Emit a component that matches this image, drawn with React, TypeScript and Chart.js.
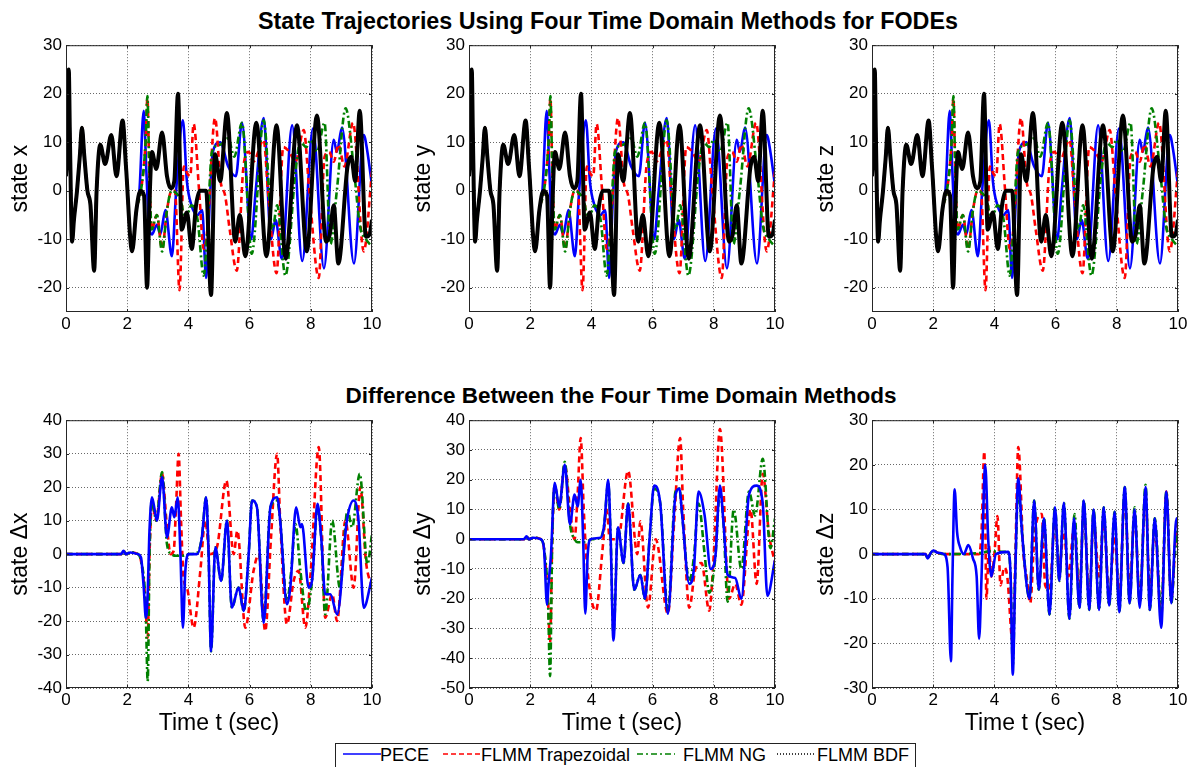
import React, { useEffect, useRef } from "react";
import { Chart, registerables } from "chart.js";
Chart.register(...registerables);

const FONT = "Arial, 'Liberation Sans', Helvetica, sans-serif";

// ---------------- DATA ----------------
const T_TICKS = [0, 2, 4, 6, 8, 10];
const TOP_Y_TICKS = [-20, -10, 0, 10, 20, 30];
const DX_Y_TICKS = [-40, -30, -20, -10, 0, 10, 20, 30, 40];
const DY_Y_TICKS = [-50, -40, -30, -20, -10, 0, 10, 20, 30, 40];
const DZ_Y_TICKS = [-30, -20, -10, 0, 10, 20, 30];

// common start of all four trajectories (identical until ~2.2 s)
const EARLY_T = [0, 0.04, 0.09, 0.13, 0.2, 0.26, 0.36, 0.45, 0.52, 0.6, 0.7, 0.8, 0.92, 1.0, 1.12, 1.28, 1.48, 1.65, 1.85, 1.96, 2.16];
const EARLY_V = [3, 8, 25, 10, -10.5, -6, 0, 7, 13, 7, 0, -3, -16.5, 0, 9.5, 5.5, 11.5, 3, 14.5, 5, -12.5];

const BDF_T = [2.3, 2.43, 2.55, 2.65, 2.73, 2.81, 2.95, 3.14, 3.3, 3.42, 3.54, 3.66, 3.78, 3.95, 4.11, 4.25, 4.38, 4.58, 4.74, 4.87, 5.04, 5.26, 5.53, 5.68, 5.86, 6.22, 6.55, 6.88, 7.18, 7.55, 7.87, 8.2, 8.5, 8.62, 8.75, 8.9, 9.2, 9.32, 9.45, 9.6, 9.8, 9.92, 10];
const BDF_V = [-4, 0, -1, -20, -2, 8, 4.5, 12, 3, 0.5, 2, 20, -8, -4.5, -12, -3, 0, 0, -21.5, 7.5, 2, 16, -10.5, -5, -13.5, 14, -13.5, 13.5, -14, 13.5, -12.5, 15.5, -10.5, -9, -3, -15, 5, 7, 2, 16.5, -9.5, -9, -6];

const PECE_T = [2.3, 2.4, 2.54, 2.62, 2.7, 2.81, 2.97, 3.08, 3.25, 3.46, 3.6, 3.82, 3.95, 4.1, 4.3, 4.45, 4.58, 4.7, 4.8, 5.04, 5.3, 5.55, 5.75, 6.05, 6.2, 6.46, 6.7, 6.85, 7.05, 7.39, 7.72, 8.07, 8.43, 8.75, 8.85, 9.02, 9.41, 9.73, 9.85, 10];
const PECE_V = [-4, 0, 16.5, 5, -6, -9, -7, -9, -4, -13.5, 0, 14.5, 2, -3, -5, -4, -18, -2, 8, 10, 5, 3, 14, -10, 0, 15, -10, -6, -14, 13.5, -14.5, 12.8, -16, 10.5, 8, 13, -15, 11.5, 8, 1];

const TRAP_T = [2.3, 2.45, 2.6, 2.66, 2.72, 2.8, 2.97, 3.14, 3.3, 3.45, 3.56, 3.71, 3.85, 3.97, 4.06, 4.17, 4.35, 4.5, 4.62, 4.87, 5.05, 5.2, 5.35, 5.58, 5.8, 5.97, 6.12, 6.46, 6.6, 6.88, 7.1, 7.3, 7.5, 7.77, 7.95, 8.26, 8.45, 8.6, 8.75, 8.9, 9.1, 9.38, 9.73, 10];
const TRAP_V = [-4, 0, 10, 19, 5, -8, -5, -12, -4, 0, 0, -20.5, 5, 3.5, 3, 13.8, 0, -12, -8, 15, 2, -1, -8, -16.5, 5, 8, 6, 10.5, 0, -17, 9, 8, 6, 12.5, 0, -18, 7, 8, 6, 9.5, 5, 14, -12.5, 4];

const NG_T = [2.3, 2.45, 2.6, 2.66, 2.72, 2.8, 2.97, 3.14, 3.3, 3.45, 3.6, 3.75, 3.9, 4.1, 4.3, 4.5, 4.62, 4.77, 5.04, 5.3, 5.5, 5.75, 6.07, 6.46, 6.75, 6.9, 7.17, 7.5, 7.66, 7.85, 8.0, 8.2, 8.45, 8.64, 8.85, 9.14, 9.4, 9.6, 9.8, 10];
const NG_V = [-4, 0, 10, 19.5, 5, -8, -5, -12.5, -4, 0, -0.5, -2, -6, -3, -6, -17.5, -8, 8, 9.5, 10.8, 7, 14, -13, 14.5, -8, -3, -17.5, 4, 10, 9, 10.5, 8, 14, -11, 0, 17, 5, -7, -10, -11.5];

// differences, state x
const DX_PECE_T = [0, 1.8, 1.88, 1.95, 2.1, 2.35, 2.45, 2.54, 2.61, 2.67, 2.72, 2.81, 2.92, 2.97, 3.14, 3.3, 3.46, 3.54, 3.65, 3.74, 3.82, 3.9, 4.01, 4.28, 4.44, 4.58, 4.66, 4.74, 4.88, 5.07, 5.26, 5.42, 5.64, 5.81, 5.97, 6.08, 6.24, 6.46, 6.68, 6.9, 7.0, 7.22, 7.33, 7.52, 7.66, 7.71, 7.93, 8.04, 8.22, 8.34, 8.47, 8.64, 8.86, 9.18, 9.4, 9.56, 9.73, 10];
const DX_PECE_V = [0, 0, 1, 0, 0.5, 0, -1, -10, -19, -12, 5, 17, 12, 10, 23, 5, 14, 11, 17, 0, -22, -5, 0, 0, 5, 17, 0, -29, 2, -8, 10, -16, -10, -17, 0, 16, 14, -20.5, 14, 17, 10, -15, -10, 14, 8, 9, -10, -8, 15, 5, -12, -12, -18, 10, 16, 10, -16, -7];
const DX_TRAP_T = [0, 1.8, 1.88, 1.95, 2.1, 2.35, 2.45, 2.58, 2.67, 2.73, 2.81, 2.95, 3.14, 3.3, 3.42, 3.52, 3.6, 3.68, 3.76, 3.85, 3.95, 4.17, 4.39, 4.55, 4.7, 4.93, 5.24, 5.48, 5.6, 5.86, 6.13, 6.3, 6.51, 6.7, 6.9, 7.0, 7.22, 7.44, 7.6, 7.82, 8.0, 8.26, 8.47, 8.7, 8.86, 9.13, 9.4, 9.62, 9.8, 10];
const DX_TRAP_V = [0, 0, 1, 0, 0.5, 0, -2, -12, -25, 0, 15, 10, 24, 8, 0, 1, 15, 30, 10, -8, -10, -22, -5, 10, 0, 2, 22, 0, 7, -22, -5, 0, -23, 5, 30, 10, -21, -8, -5, -22, -5, 32, -19, -12, -20, 10, -10, 20, -2, -10];
const DX_NG_T = [0, 1.8, 1.88, 1.95, 2.1, 2.35, 2.45, 2.6, 2.67, 2.73, 2.81, 2.95, 3.14, 3.3, 3.45, 3.6, 3.8, 4.0, 4.3, 4.44, 4.58, 4.66, 4.74, 4.88, 5.07, 5.26, 5.42, 5.64, 5.81, 5.97, 6.08, 6.24, 6.46, 6.68, 6.9, 7.0, 7.22, 7.35, 7.5, 7.66, 7.85, 8.04, 8.22, 8.34, 8.47, 8.7, 8.95, 9.2, 9.35, 9.6, 9.85, 10];
const DX_NG_V = [0, 0, 1, 0, 0.5, 0, -2, -15, -38, 0, 16, 10, 24.5, 3, 0, -0.5, -0.5, 0, 0.5, 5, 17, 0, -29, 2, -8, 10, -16, -10, -17, 0, 16, 14, -20, 14, 16, 10, -14, -6, 9, -5, -17, -8, 14, 5, -18, 10, -10, 13, 8, 24, -3, 6];

// differences, state y
const DY_PECE_T = [0, 1.8, 1.88, 1.95, 2.1, 2.35, 2.45, 2.55, 2.6, 2.68, 2.8, 2.95, 3.13, 3.3, 3.45, 3.55, 3.65, 3.73, 3.8, 3.88, 3.97, 4.3, 4.42, 4.55, 4.63, 4.72, 4.87, 5.05, 5.2, 5.4, 5.6, 5.75, 5.9, 6.05, 6.25, 6.5, 6.75, 6.88, 6.95, 7.2, 7.35, 7.5, 7.7, 7.9, 8.05, 8.2, 8.32, 8.45, 8.7, 8.9, 9.15, 9.4, 9.6, 9.75, 10];
const DY_PECE_V = [0, 0, 1, 0, 0.5, 0, -3, -22, -15, -5, 19, 11, 25, 5, 15, 11, 20, 0, -25, -5, 0, 0.5, 5, 20, 0, -34, 4, -8, 12, -17, -12, -20, 0, 18, 12, -25, 15, 17, 10, -15, -10, 16, 8, -10, -6, 18, 5, -12, -13, -20, 15, 18, 12, -19, -7];
const DY_TRAP_T = [0, 1.8, 1.88, 1.95, 2.1, 2.35, 2.45, 2.58, 2.65, 2.72, 2.8, 2.95, 3.13, 3.3, 3.45, 3.55, 3.65, 3.75, 3.85, 4.15, 4.35, 4.5, 4.6, 4.87, 5.2, 5.5, 5.6, 5.85, 6.1, 6.5, 6.7, 6.9, 7.0, 7.2, 7.4, 7.6, 7.85, 8.0, 8.2, 8.5, 8.7, 8.9, 9.2, 9.4, 9.6, 9.8, 10];
const DY_TRAP_V = [0, 0, 1, 0, 0.5, 0, -3, -20, -35, 0, 18, 10, 25, 10, 0, 15, 34, 10, -8, -24, -5, 10, 0, 0, 23, -5, 6, -23, 0, -25, 5, 34, 10, -23, -10, -8, -24, -5, 37, -20, -15, -22, 10, -15, 22, 2, -8];
const DY_NG_T = [0, 1.8, 1.88, 1.95, 2.1, 2.35, 2.45, 2.58, 2.65, 2.72, 2.8, 2.95, 3.13, 3.3, 3.45, 3.55, 3.8, 4.0, 4.3, 4.42, 4.55, 4.63, 4.72, 4.87, 5.05, 5.2, 5.4, 5.6, 5.75, 5.9, 6.05, 6.25, 6.5, 6.75, 6.88, 6.95, 7.2, 7.35, 7.5, 7.7, 7.85, 8.05, 8.2, 8.32, 8.45, 8.65, 8.9, 9.15, 9.35, 9.6, 9.85, 10];
const DY_NG_V = [0, 0, 1, 0, 0.5, 0, -3, -20, -46, 0, 18, 10, 26, 5, 0, -1, -1, 0, 0.5, 5, 19, 0, -32, 4, -8, 12, -17, -12, -20, 0, 17, 12, -24, 16, 17, 10, -14, -6, 12, -5, -18, -6, 16, 5, -21, 10, -10, 16, 8, 27, -3, 7];

// differences, state z
const DZ_PECE_T = [0, 1.75, 1.82, 1.9, 2.0, 2.15, 2.35, 2.47, 2.58, 2.63, 2.7, 2.78, 2.88, 3.0, 3.15, 3.3, 3.42, 3.5, 3.58, 3.7, 3.8, 3.9, 4.05, 4.45, 4.53, 4.6, 4.68, 4.78, 4.9, 5.15, 5.3, 5.45, 5.62, 5.8, 5.98, 6.12, 6.27, 6.45, 6.6, 6.78, 6.92, 7.1, 7.24, 7.42, 7.57, 7.75, 7.93, 8.08, 8.26, 8.42, 8.58, 8.75, 8.94, 9.08, 9.24, 9.45, 9.62, 9.78, 9.95, 10];
const DZ_PECE_V = [0, 0, -1, 0, 0.8, 0.3, 0, -3, -24, -5, 14.5, 5, 1.5, 0, 2, -1, -5, -19, -5, 20, 3, -5, 0, 0.5, -5, -27, -5, 17, 5, -10, 12, -8, 8, -13.5, 10.5, -6, 11.5, -14.5, 8, -12, 12, -12.5, 10, -12.5, 10.5, -11.5, 9.5, -13, 15, -11, 10, -12, 15, -12.5, 8, -16.5, 14, -11, 8, 7];
const DZ_TRAP_T = [0, 1.75, 1.82, 1.9, 2.0, 2.15, 2.35, 3.5, 3.58, 3.67, 3.74, 3.82, 3.9, 4.0, 4.1, 4.2, 4.32, 4.42, 4.6, 4.68, 4.78, 4.95, 5.05, 5.17, 5.32, 5.55, 5.66, 5.8, 5.98, 6.12, 6.27, 6.42, 6.6, 6.78, 6.92, 7.1, 7.24, 7.42, 7.57, 7.75, 7.93, 8.08, 8.26, 8.42, 8.58, 8.75, 8.94, 9.08, 9.24, 9.45, 9.62, 9.78, 9.95, 10];
const DZ_TRAP_V = [0, 0, -1, 0, 0.8, 0.3, 0, 0, 5, 23, -10, 2, -5, 0, 8.5, -7, -3, -5, -20, -2, 24, 0, -5, -11, 5, 9, -7, -8, 7, -3, 5, -5, 6, -8, 10, -10, 8, -5, 8, -9, 4, -10, 13, -8, 9, -10, 13, -9, 6, -14, 14, -10, 6, 7];
const DZ_NG_T = [0, 1.75, 1.82, 1.9, 2.0, 2.15, 2.35, 3.6, 3.8, 4.0, 4.3, 4.45, 4.53, 4.6, 4.68, 4.78, 4.9, 5.15, 5.3, 5.45, 5.62, 5.8, 5.98, 6.12, 6.27, 6.45, 6.62, 6.78, 6.92, 7.1, 7.24, 7.42, 7.57, 7.75, 7.93, 8.08, 8.26, 8.42, 8.58, 8.75, 8.94, 9.08, 9.24, 9.45, 9.62, 9.78, 9.95, 10];
const DZ_NG_V = [0, 0, -1, 0, 0.8, 0.3, 0, 0.3, 0.6, 0.6, 0.5, 0.5, -5, -25, -5, 15, 5, -10, 12, -8, 8, -13.5, 10.5, -6, 11.5, -14.5, 9, -12, 12, -12.5, 10, -12.5, 10.5, -11.5, 9.5, -13, 15, -11, 10.5, -11, 15.5, -12.5, 8, -13, 14, -11, 5, 0];

// ---------------- STYLE / LAYOUT ----------------
const SERIES = {
  pece: { label: "PECE", color: "#0000ff", width: 2.6, dash: [] as number[], legendDash: "" },
  trap: { label: "FLMM Trapezoidal", color: "#ff0000", width: 2.6, dash: [6, 4], legendDash: "5,3" },
  ng: { label: "FLMM NG", color: "#008000", width: 2.6, dash: [7, 3, 2, 3], legendDash: "6,3,2,3" },
  bdf: { label: "FLMM BDF", color: "#000000", width: 4, dash: [] as number[], legendDash: "1,2" },
};

const COL_LEFT = [66, 469, 872];
const AREA_W = 306;
const ROW_TOP = [43, 418];
const AREA_H = [269, 270];
const Y_AXIS_W = 59;
const PAD_T = 12;
const PAD_R = 14;
const X_AXIS_H = [30, 49];

const toPoints = (t: number[], v: number[]) => t.map((x, i) => ({ x, y: v[i] }));

function ds(key: keyof typeof SERIES, t: number[], v: number[], order: number) {
  const s = SERIES[key];
  return {
    label: s.label,
    data: toPoints(t, v),
    borderColor: s.color,
    backgroundColor: s.color,
    borderWidth: s.width,
    borderDash: s.dash,
    pointRadius: 0,
    fill: false,
    cubicInterpolationMode: "monotone",
    order,
    clip: 0,
  };
}

const boxPlugin = {
  id: "matlabBox",
  afterDraw(chart: any) {
    const { ctx, chartArea } = chart;
    const { left, top, right, bottom } = chartArea;
    ctx.save();
    ctx.strokeStyle = "#262626";
    ctx.lineWidth = 1;
    ctx.strokeRect(left + 0.5, top + 0.5, right - left - 1, bottom - top - 1);
    const tl = 3;
    ctx.beginPath();
    chart.scales.x.ticks.forEach((tk: any) => {
      const px = Math.round(chart.scales.x.getPixelForValue(tk.value)) + 0.5;
      ctx.moveTo(px, bottom); ctx.lineTo(px, bottom - tl);
      ctx.moveTo(px, top); ctx.lineTo(px, top + tl);
    });
    chart.scales.y.ticks.forEach((tk: any) => {
      const py = Math.round(chart.scales.y.getPixelForValue(tk.value)) + 0.5;
      ctx.moveTo(left, py); ctx.lineTo(left + tl, py);
      ctx.moveTo(right, py); ctx.lineTo(right - tl, py);
    });
    ctx.stroke();
    ctx.restore();
  },
};

function buildConfig(datasets: any[], yMin: number, yMax: number, yTicks: number[], yTitle: string, xTitle: string, xAxisH: number) {
  const gridOpts = { color: "rgba(40,40,40,0.7)", lineWidth: 1, drawTicks: false };
  return {
    type: "line",
    data: { datasets },
    options: {
      responsive: false,
      animation: false,
      devicePixelRatio: 1,
      layout: { padding: { top: PAD_T, right: PAD_R, left: 0, bottom: 0 } },
      plugins: { legend: { display: false }, tooltip: { enabled: false } },
      scales: {
        x: {
          type: "linear",
          min: 0,
          max: 10,
          afterBuildTicks: (s: any) => { s.ticks = T_TICKS.map((value) => ({ value })); },
          afterFit: (s: any) => { s.height = xAxisH; },
          grid: gridOpts,
          border: { display: false, dash: [1, 2] },
          ticks: { font: { family: FONT, size: 17 }, color: "#000", padding: 2, maxRotation: 0, autoSkip: false },
          title: { display: !!xTitle, text: xTitle, font: { family: FONT, size: 23 }, color: "#000", padding: { top: 0, bottom: 0 } },
        },
        y: {
          type: "linear",
          min: yMin,
          max: yMax,
          afterBuildTicks: (s: any) => { s.ticks = yTicks.map((value) => ({ value })); },
          afterFit: (s: any) => { s.width = Y_AXIS_W; },
          grid: gridOpts,
          border: { display: false, dash: [1, 2] },
          ticks: { font: { family: FONT, size: 17 }, color: "#000", padding: 4, autoSkip: false },
          title: { display: true, text: yTitle, font: { family: FONT, size: 23 }, color: "#000", padding: { top: 0, bottom: 0 } },
        },
      },
    },
    plugins: [boxPlugin],
  };
}

function Panel({ col, row, config }: { col: number; row: number; config: any }) {
  const ref = useRef<HTMLCanvasElement | null>(null);
  const left = COL_LEFT[col] - Y_AXIS_W;
  const top = ROW_TOP[row] - PAD_T;
  const width = Y_AXIS_W + AREA_W + PAD_R;
  const height = PAD_T + AREA_H[row] + X_AXIS_H[row];
  useEffect(() => {
    const chart = new Chart(ref.current as HTMLCanvasElement, config);
    return () => chart.destroy();
  }, []);
  return (
    <canvas
      ref={ref}
      width={width}
      height={height}
      style={{ position: "absolute", left, top, width, height }}
    />
  );
}

function topDatasets() {
  return [
    ds("bdf", EARLY_T.concat(BDF_T), EARLY_V.concat(BDF_V), 0),
    ds("ng", EARLY_T.concat(NG_T), EARLY_V.concat(NG_V), 1),
    ds("trap", EARLY_T.concat(TRAP_T), EARLY_V.concat(TRAP_V), 2),
    ds("pece", EARLY_T.concat(PECE_T), EARLY_V.concat(PECE_V), 3),
  ];
}

const LEGEND_POS = [
  { key: "pece", sample: 7, text: 44 },
  { key: "trap", sample: 107, text: 145 },
  { key: "ng", sample: 301, text: 347 },
  { key: "bdf", sample: 441, text: 481 },
] as const;

export default function App() {
  const panels = [
    { col: 0, row: 0, config: buildConfig(topDatasets(), -25, 30, TOP_Y_TICKS, "state x", "", X_AXIS_H[0]) },
    { col: 1, row: 0, config: buildConfig(topDatasets(), -25, 30, TOP_Y_TICKS, "state y", "", X_AXIS_H[0]) },
    { col: 2, row: 0, config: buildConfig(topDatasets(), -25, 30, TOP_Y_TICKS, "state z", "", X_AXIS_H[0]) },
    {
      col: 0, row: 1,
      config: buildConfig([
        ds("pece", DX_PECE_T, DX_PECE_V, 0),
        ds("ng", DX_NG_T, DX_NG_V, 1),
        ds("trap", DX_TRAP_T, DX_TRAP_V, 2),
      ], -40, 40, DX_Y_TICKS, "state \u0394x", "Time t (sec)", X_AXIS_H[1]),
    },
    {
      col: 1, row: 1,
      config: buildConfig([
        ds("pece", DY_PECE_T, DY_PECE_V, 0),
        ds("ng", DY_NG_T, DY_NG_V, 1),
        ds("trap", DY_TRAP_T, DY_TRAP_V, 2),
      ], -50, 40, DY_Y_TICKS, "state \u0394y", "Time t (sec)", X_AXIS_H[1]),
    },
    {
      col: 2, row: 1,
      config: buildConfig([
        ds("pece", DZ_PECE_T, DZ_PECE_V, 0),
        ds("ng", DZ_NG_T, DZ_NG_V, 1),
        ds("trap", DZ_TRAP_T, DZ_TRAP_V, 2),
      ], -30, 30, DZ_Y_TICKS, "state \u0394z", "Time t (sec)", X_AXIS_H[1]),
    },
  ];

  const titleStyle: React.CSSProperties = {
    position: "absolute",
    width: 1000,
    textAlign: "center",
    fontFamily: FONT,
    fontWeight: "bold",
    color: "#000",
    whiteSpace: "nowrap",
  };

  return (
    <div style={{ position: "fixed", left: 0, top: 0, width: 1192, height: 767, background: "#fff", overflow: "hidden" }}>
      <div style={{ ...titleStyle, left: 608 - 500, top: 10, fontSize: 23.3, lineHeight: "23px" }}>
        State Trajectories Using Four Time Domain Methods for FODEs
      </div>
      <div style={{ ...titleStyle, left: 621 - 500, top: 385, fontSize: 22.5, lineHeight: "22.5px" }}>
        Difference Between the Four Time Domain Methods
      </div>
      {panels.map((p, i) => (
        <Panel key={i} col={p.col} row={p.row} config={p.config} />
      ))}
      <div style={{ position: "absolute", left: 335, top: 743, width: 579, height: 40, border: "1px solid #222", background: "#fff" }}>
        {LEGEND_POS.map((item) => {
          const s = SERIES[item.key];
          return (
            <React.Fragment key={item.key}>
              <svg width={38} height={10} style={{ position: "absolute", left: item.sample, top: 5 }}>
                <line x1={0} y1={5} x2={38} y2={5} stroke={s.color} strokeWidth={item.key === "bdf" ? 1.3 : 1.5} strokeDasharray={s.legendDash || undefined} />
              </svg>
              <div style={{ position: "absolute", left: item.text, top: 2, fontFamily: FONT, fontSize: 18, lineHeight: "18px", color: "#000", whiteSpace: "nowrap" }}>
                {s.label}
              </div>
            </React.Fragment>
          );
        })}
      </div>
    </div>
  );
}
